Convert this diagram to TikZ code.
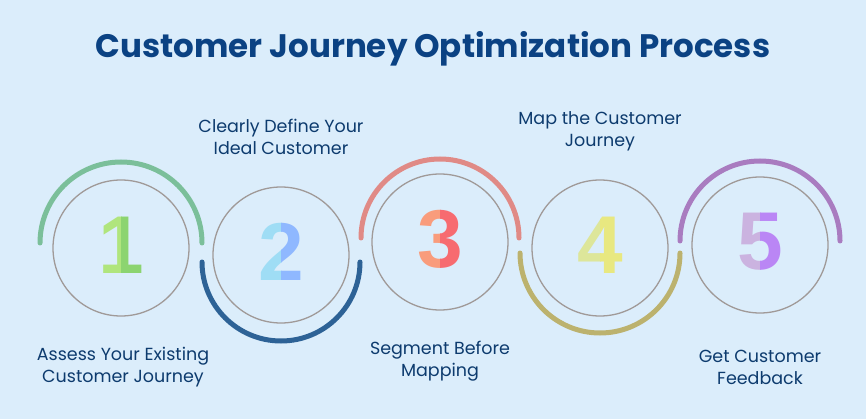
\documentclass[tikz,border=0pt]{standalone}
\usepackage{fontspec}
\setmainfont{Poppins}
\newfontfamily\digfont{Liberation Sans Bold}
\definecolor{bg}{HTML}{DBEDFB}
\definecolor{txt}{HTML}{0D3B6E}
\definecolor{ttl}{HTML}{0B4283}
\definecolor{ring}{HTML}{A09A98}
\definecolor{aA}{HTML}{7BBF9A}\definecolor{aB}{HTML}{2D6296}\definecolor{aC}{HTML}{E08A86}\definecolor{aD}{HTML}{BCB26E}\definecolor{aE}{HTML}{A97CC0}
\definecolor{dAl}{HTML}{B0E57D}\definecolor{dAd}{HTML}{8CD470}
\definecolor{dBl}{HTML}{9FDDF5}\definecolor{dBd}{HTML}{8FB8FF}
\definecolor{dCl}{HTML}{F99C7C}\definecolor{dCd}{HTML}{F76B70}
\definecolor{dDl}{HTML}{DDE69A}\definecolor{dDd}{HTML}{E8E880}
\definecolor{dEl}{HTML}{CBB3E0}\definecolor{dEd}{HTML}{BA86F5}
\begin{document}
\begin{tikzpicture}[x=1pt,y=-1pt,
  ringc/.style={draw=ring,line width=1.3pt,circle,minimum size=136pt,inner sep=0pt},
  lab/.style={text=txt,font=\fontsize{17.5}{22}\selectfont,align=center},
  dig/.style={font=\digfont\fontsize{82}{82}\selectfont,inner sep=0pt},
  arcst/.style={line width=5pt,line cap=round}]
\fill[bg] (0,0) rectangle (866,419);
\useasboundingbox (0,0) rectangle (866,419);
\node[text=ttl,font=\bfseries\fontsize{32.5}{36}\selectfont] (title) at (433,49) {Customer Journey Optimization Process};
\foreach \i/\x/\y/\l/\d/\ay/\side in {1/121/248/A/1/243/top,2/281/255/B/2/262/bot,3/440/242/C/3/238/top,4/600/248/D/4/253/bot,5/760/245/E/5/241/top}{
  \node[ringc] (c\i) at (\x,\y) {};
  \coordinate (ac\i) at (\x,\ay);
  \begin{scope}
    \clip (\x-60,\y-50) rectangle (\x,\y+50);
    \node[dig,text=d\l l] (n\i) at (\x,\y-3) {\d};
  \end{scope}
  \begin{scope}
    \clip (\x,\y-50) rectangle (\x+60,\y+50);
    \node[dig,text=d\l d] at (\x,\y-3) {\d};
  \end{scope}
}
\draw[arcst,aA] ([xshift=-81pt]ac1) arc[start angle=180,end angle=0,radius=81pt];
\draw[arcst,aB] ([xshift=-79pt]ac2) arc[start angle=180,end angle=360,radius=79pt];
\draw[arcst,aC] ([xshift=-79pt]ac3) arc[start angle=180,end angle=0,radius=79pt];
\draw[arcst,aD] ([xshift=-80pt]ac4) arc[start angle=180,end angle=360,radius=80pt];
\draw[arcst,aE] ([xshift=-80pt]ac5) arc[start angle=180,end angle=0,radius=80pt];
\node[lab] (l1) at (123,367) {Assess Your Existing\\Customer Journey};
\node[lab] (l2) at (281,137) {Clearly Define Your\\Ideal Customer};
\node[lab] (l3) at (440,361) {Segment Before\\Mapping};
\node[lab] (l4) at (600,131) {Map the Customer\\Journey};
\node[lab] (l5) at (760,367) {Get Customer\\Feedback};
\end{tikzpicture}
\end{document}
